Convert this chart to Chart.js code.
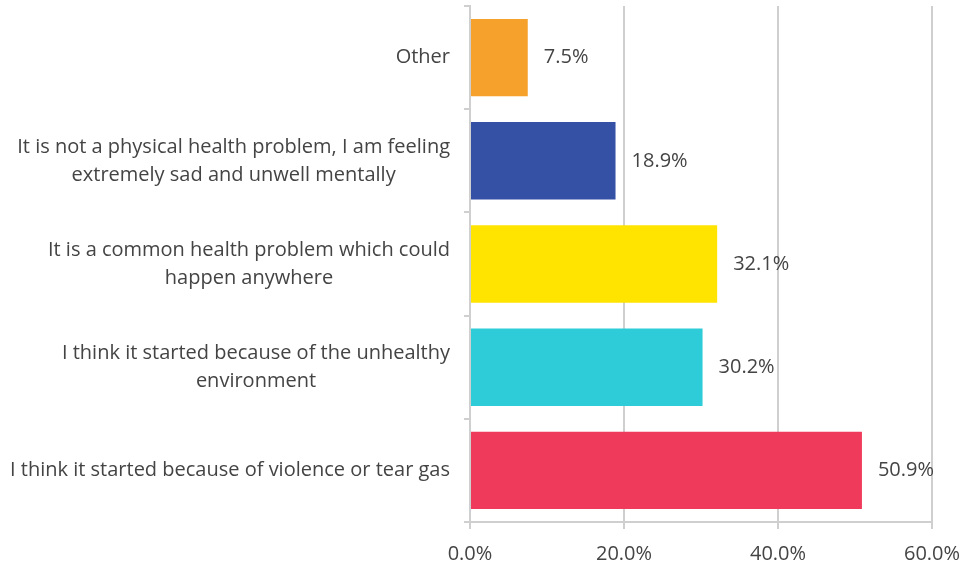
<!DOCTYPE html>
<html>
<head>
<meta charset="utf-8">
<script src="https://cdn.jsdelivr.net/npm/chart.js@4/dist/chart.umd.min.js"></script>
<style>
  html, body { margin: 0; padding: 0; background: #fff; }
  #wrap { width: 965px; height: 566px; }
</style>
</head>
<body>
<div id="wrap"><canvas id="chart"></canvas></div>
<script>
// categories, top to bottom (each label split into lines)
const categories = [
    ['Other'],
    ['It is not a physical health problem, I am feeling', 'extremely sad and unwell mentally'],
    ['It is a common health problem which could', 'happen anywhere'],
    ['I think it started because of the unhealthy', 'environment'],
    ['I think it started because of violence or tear gas']
];
const values = [7.5, 18.9, 32.1, 30.2, 50.9];
const barColors = ['#F5A12B', '#3551A6', '#FFE400', '#2ECBD8', '#EF3A5C'];
const xTicks = [0, 20, 40, 60];

const textColor = '#444444';
const fontFamily = '"Open Sans", "Liberation Sans", sans-serif';

// draws the category labels (lines centred within a right-aligned block) and the value labels
const labelPlugin = {
    id: 'labelPlugin',
    afterDraw(chart) {
        const ctx = chart.ctx;
        const ys = chart.scales.y;
        ctx.save();
        ctx.fillStyle = textColor;
        ctx.font = '20px ' + fontFamily;
        ctx.textBaseline = 'middle';
        const lineH = 28;
        const rightEdge = ys.right - 20;
        categories.forEach((lines, i) => {
            const cy = ys.getPixelForValue(i);
            const widest = Math.max(...lines.map(l => ctx.measureText(l).width));
            const cx = rightEdge - widest / 2;
            ctx.textAlign = 'center';
            lines.forEach((line, j) => {
                const y = cy + (j - (lines.length - 1) / 2) * lineH;
                ctx.fillText(line, cx, y);
            });
        });
        ctx.textAlign = 'left';
        chart.getDatasetMeta(0).data.forEach((bar, i) => {
            ctx.fillText(values[i].toFixed(1) + '%', bar.x + 16, bar.y);
        });
        ctx.restore();
    }
};

new Chart(document.getElementById('chart').getContext('2d'), {
    type: 'bar',
    data: {
        labels: categories.map(c => c.join(' ')),
        datasets: [{
            data: values,
            backgroundColor: barColors,
            borderWidth: 0,
            categoryPercentage: 0.75,
            barPercentage: 1
        }]
    },
    options: {
        indexAxis: 'y',
        responsive: true,
        maintainAspectRatio: false,
        animation: false,
        layout: { padding: { top: 6, right: 0, bottom: 0, left: 0 } },
        plugins: {
            legend: { display: false },
            title: { display: false },
            tooltip: { enabled: false }
        },
        scales: {
            x: {
                min: 0,
                max: 60,
                afterBuildTicks: scale => { scale.ticks = xTicks.map(v => ({ value: v })); },
                afterFit: scale => { scale.height = 44; scale.paddingRight = 33; },
                grid: {
                    color: '#cfcfcf',
                    lineWidth: 2,
                    tickLength: 7,
                    tickColor: '#cfcfcf'
                },
                border: { display: true, color: '#cfcfcf', width: 2 },
                ticks: {
                    color: textColor,
                    font: { size: 20, family: fontFamily },
                    padding: 13,
                    maxRotation: 0,
                    callback: v => v.toFixed(1) + '%'
                }
            },
            y: {
                afterFit: scale => { scale.width = 470; },
                grid: {
                    drawOnChartArea: false,
                    offset: true,
                    tickLength: 6,
                    tickColor: '#cfcfcf',
                    lineWidth: 2
                },
                border: { display: true, color: '#cfcfcf', width: 2 },
                ticks: { display: false }
            }
        }
    },
    plugins: [labelPlugin]
});
</script>
</body>
</html>
